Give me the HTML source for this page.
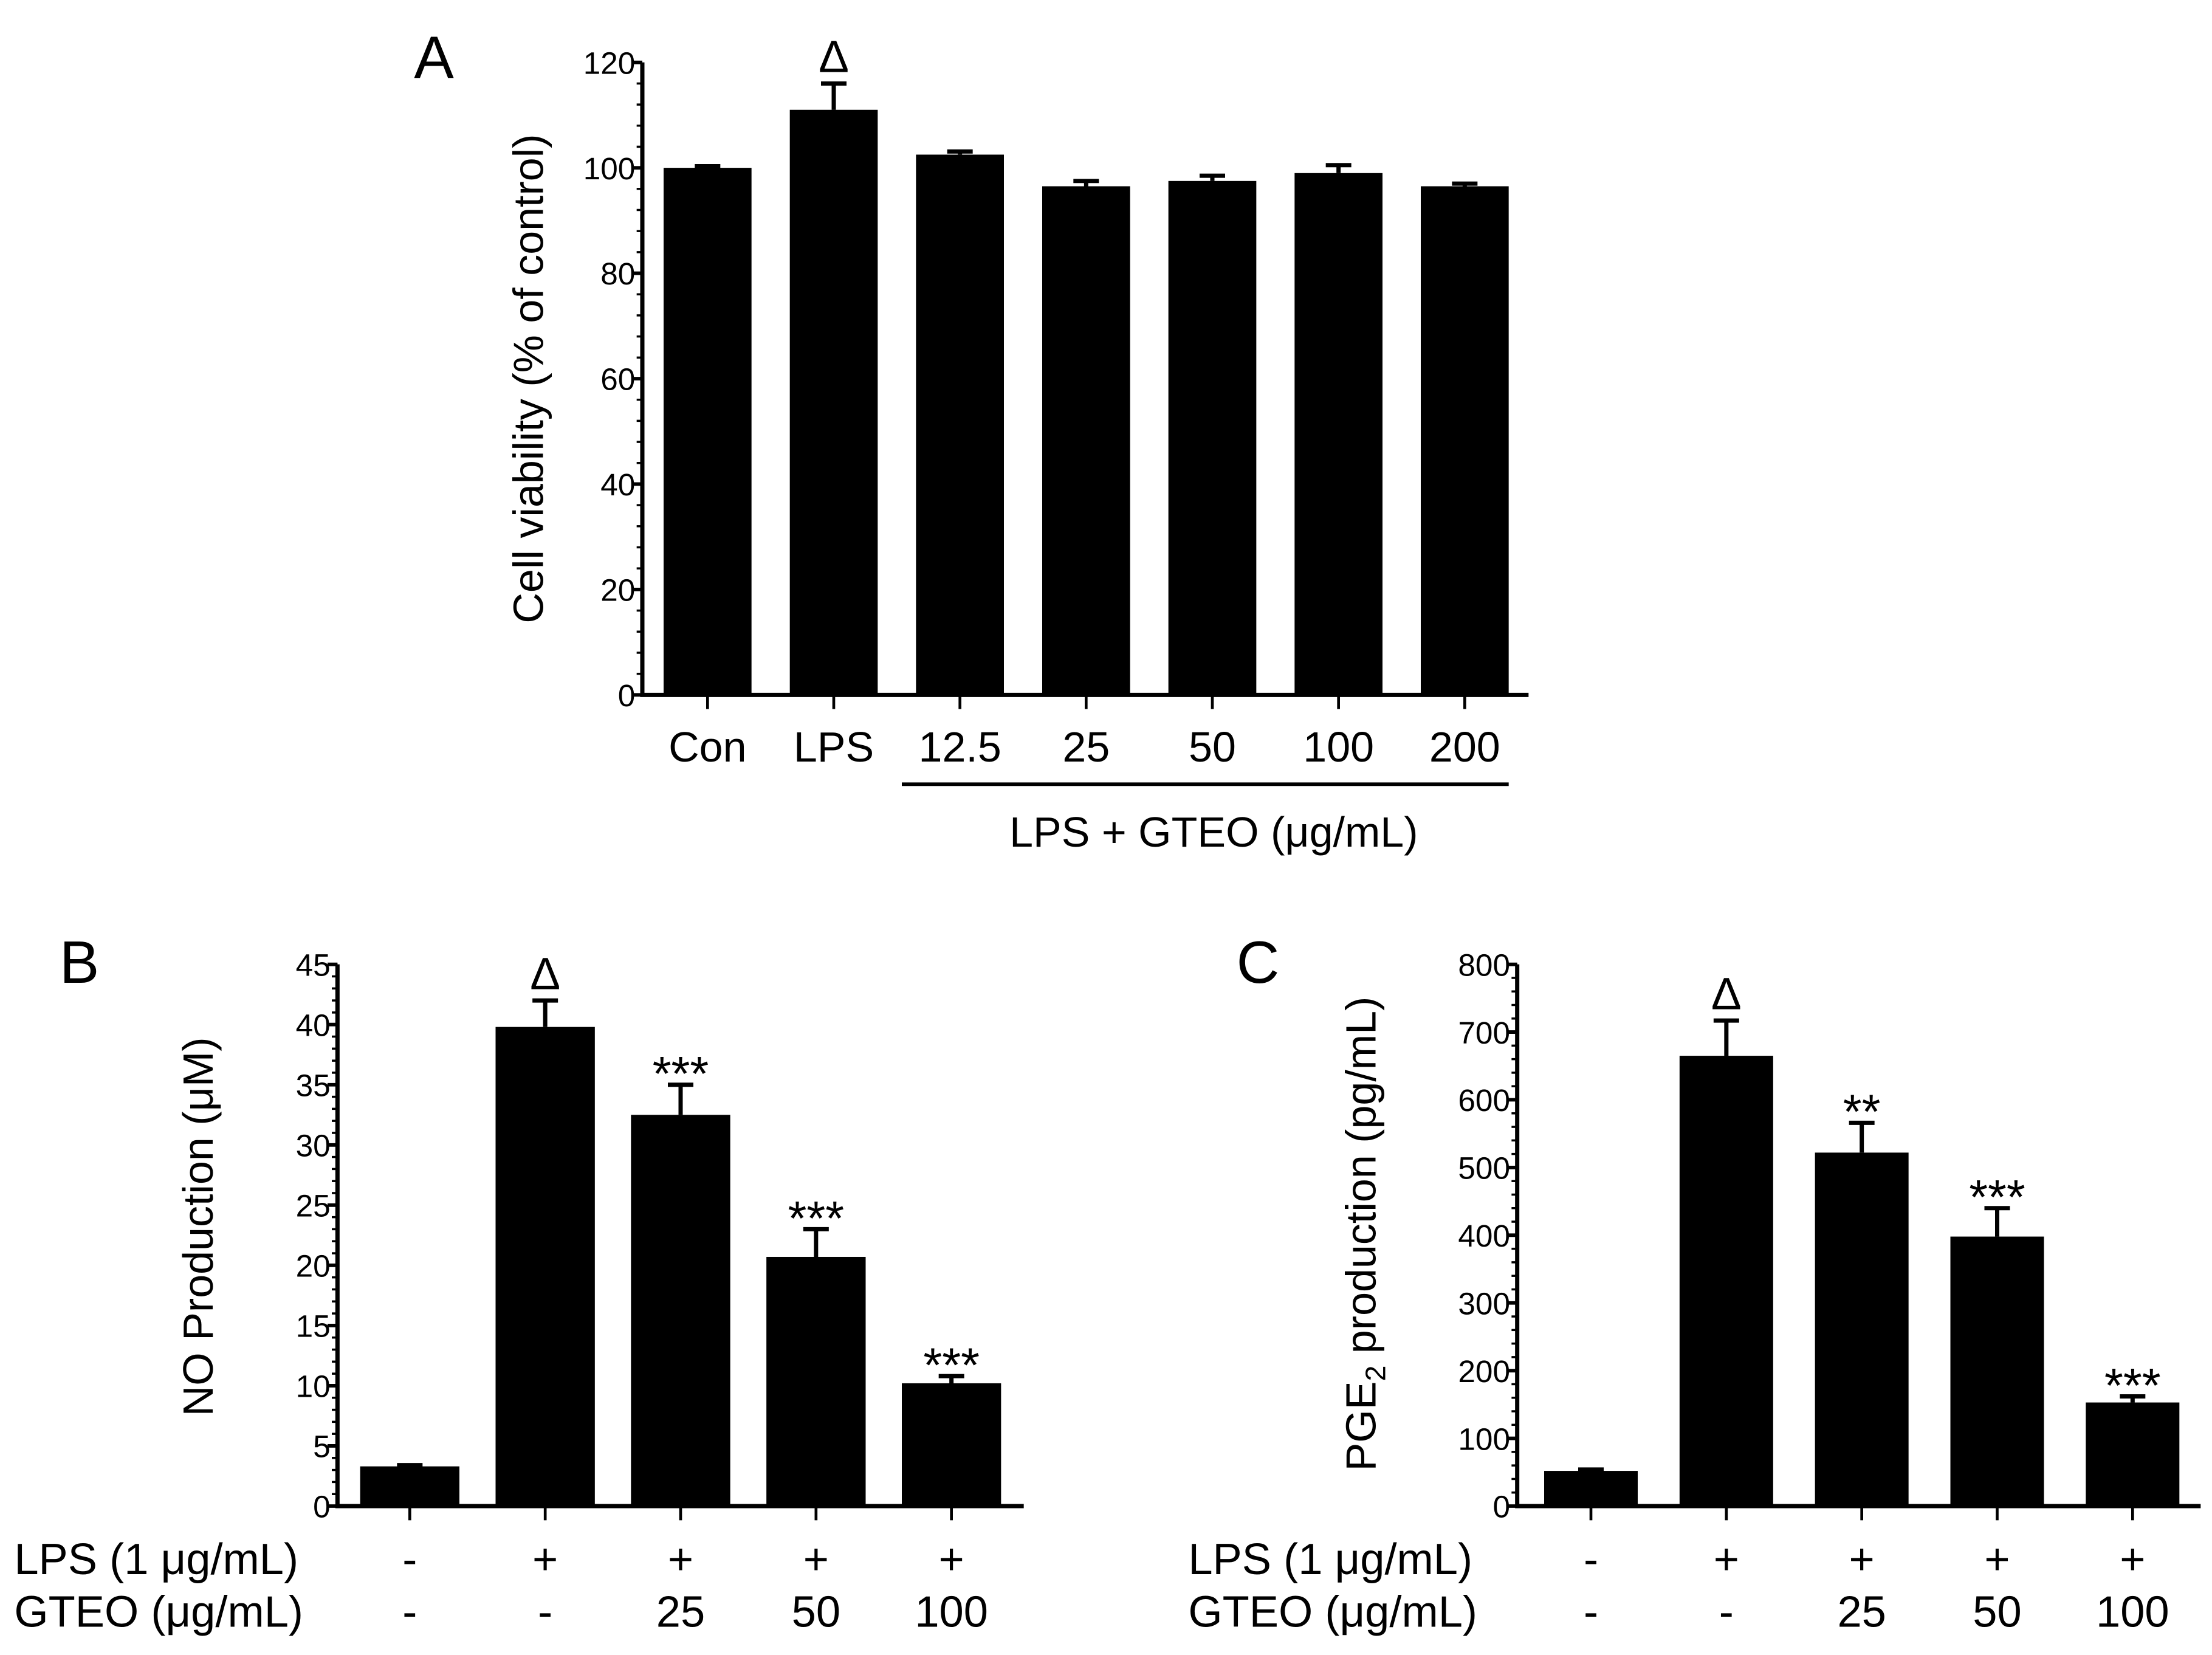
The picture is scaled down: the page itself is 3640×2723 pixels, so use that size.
<!DOCTYPE html>
<html><head><meta charset="utf-8"><style>
html,body{margin:0;padding:0;background:#fff}
svg{display:block}
text{font-family:"Liberation Sans",Arial,sans-serif;fill:#000}
</style></head><body>
<svg id="fig" width="3640" height="2723" viewBox="0 0 1560 1167" xmlns="http://www.w3.org/2000/svg">
<rect width="1560" height="1167" fill="#fff"/>
<g id="gA"></g>
<g id="gB"></g>
<g id="gC"></g>
</svg>
<script>
// Panel A data
const catsA = ["Con","LPS","12.5","25","50","100","200"];
const valsA = [100,111,102.5,96.5,97.5,99,96.5];
const errA = [0.3,5,0.6,1,1,1.5,0.5];
const sigA = ["","Δ","","","","",""];
const ticksA = [0,20,40,60,80,100,120];
// Panel B data
const lpsB = ["-","+","+","+","+"];
const gteoB = ["-","-","25","50","100"];
const valsB = [3.3,39.8,32.5,20.7,10.2];
const errB = [0.1,2.2,2.5,2.3,0.6];
const sigB = ["","Δ","***","***","***"];
const ticksB = [0,5,10,15,20,25,30,35,40,45];
// Panel C data
const lpsC = ["-","+","+","+","+"];
const gteoC = ["-","-","25","50","100"];
const valsC = [52,665,522,398,153];
const errC = [2,52,44,42,9];
const sigC = ["","Δ","**","***","***"];
const ticksC = [0,100,200,300,400,500,600,700,800];

const NS="http://www.w3.org/2000/svg";
function mk(parent,tag,attrs,txt){const e=document.createElementNS(NS,tag);for(const k in attrs)e.setAttribute(k,attrs[k]);if(txt!==undefined)e.textContent=txt;parent.appendChild(e);return e;}

function panel(g,cfg){
  const {x0,x1,yTop,yBot,ymax,ticks,minor,vals,errs,sigs,c0,step,bw}=cfg;
  const ys=v=>yBot-(v/ymax)*(yBot-yTop);
  const xs=i=>c0+i*step;
  vals.forEach((v,i)=>{
    const r=mk(g,"rect",{x:xs(i)-bw/2,y:ys(v),width:bw,height:yBot-ys(v),fill:"#000"});
    
    
    const top=ys(v+errs[i]);
    const eb=mk(g,"path",{d:`M${xs(i)} ${ys(v)}V${top}M${xs(i)-9} ${top}H${xs(i)+9}`,stroke:"#000","stroke-width":3,fill:"none"});
    
    
    if(sigs[i]){
      const isD=sigs[i]==="Δ";
      const t=mk(g,"text",{x:xs(i),y:top-(isD?8:-4),"text-anchor":"middle","font-size":isD?32:34,"font-family":isD?"Liberation Serif, serif":"Liberation Sans, sans-serif"},sigs[i]);
      
      
    }
  });
  const ax=mk(g,"path",{d:`M${x0} ${yTop}V${yBot}H${x1}`,stroke:"#000","stroke-width":3,fill:"none"});
  
  
  ticks.forEach(t=>{
    mk(g,"line",{x1:x0-7,x2:x0,y1:ys(t),y2:ys(t),stroke:"#000","stroke-width":2.5});
    const l=mk(g,"text",{x:x0-5,y:ys(t)+8,"text-anchor":"end","font-size":22},t);
    
    
  });
  for(let v=0;v<=ymax;v+=minor){mk(g,"line",{x1:x0-4,x2:x0,y1:ys(v),y2:ys(v),stroke:"#000","stroke-width":1.5});}
  vals.forEach((v,i)=>mk(g,"line",{x1:xs(i),x2:xs(i),y1:yBot,y2:yBot+10,stroke:"#000","stroke-width":2}));
  return {xs,ys};
}

// Panel A
const gA=document.getElementById('gA');
const pA=panel(gA,{x0:453,x1:1078,yTop:44,yBot:490,ymax:120,ticks:ticksA,minor:4,vals:valsA,errs:errA,sigs:sigA,c0:499,step:89,bw:62});
catsA.forEach((c,i)=>{const t=mk(gA,"text",{x:pA.xs(i),y:537,"text-anchor":"middle","font-size":30},c);

});
mk(gA,"line",{x1:636,x2:1064,y1:553,y2:553,stroke:"#000","stroke-width":2.5});
let t=mk(gA,"text",{x:856,y:597,"text-anchor":"middle","font-size":30},"LPS + GTEO (μg/mL)");


t=mk(gA,"text",{x:383,y:267,"text-anchor":"middle","font-size":30,transform:"rotate(-90 383 267)"},"Cell viability (% of control)");


t=mk(gA,"text",{x:292,y:55,"font-size":42},"A");



// Panel B
const gB=document.getElementById('gB');
const pB=panel(gB,{x0:238,x1:722,yTop:680,yBot:1062,ymax:45,ticks:ticksB,minor:1,vals:valsB,errs:errB,sigs:sigB,c0:289,step:95.5,bw:70});
lpsB.forEach((c,i)=>{mk(gB,"text",{x:pB.xs(i),y:1110,"text-anchor":"middle","font-size":31},c);});
gteoB.forEach((c,i)=>{mk(gB,"text",{x:pB.xs(i),y:1147,"text-anchor":"middle","font-size":31},c);});
t=mk(gB,"text",{x:10,y:1110,"font-size":31},"LPS (1 μg/mL)");


t=mk(gB,"text",{x:10,y:1147,"font-size":31},"GTEO (μg/mL)");


t=mk(gB,"text",{x:150,y:865,"text-anchor":"middle","font-size":30,transform:"rotate(-90 150 865)"},"NO Production (μM)");


t=mk(gB,"text",{x:42,y:693,"font-size":42},"B");



// Panel C
const gC=document.getElementById('gC');
const pC=panel(gC,{x0:1070,x1:1552,yTop:680,yBot:1062,ymax:800,ticks:ticksC,minor:20,vals:valsC,errs:errC,sigs:sigC,c0:1122,step:95.5,bw:66});
lpsC.forEach((c,i)=>{mk(gC,"text",{x:pC.xs(i),y:1110,"text-anchor":"middle","font-size":31},c);});
gteoC.forEach((c,i)=>{mk(gC,"text",{x:pC.xs(i),y:1147,"text-anchor":"middle","font-size":31},c);});
t=mk(gC,"text",{x:838,y:1110,"font-size":31},"LPS (1 μg/mL)");


t=mk(gC,"text",{x:838,y:1147,"font-size":31},"GTEO (μg/mL)");


t=mk(gC,"text",{x:970,y:870,"text-anchor":"middle","font-size":30,transform:"rotate(-90 970 870)"});


t.innerHTML='PGE<tspan font-size="20" dy="7">2</tspan><tspan dy="-7"> production (pg/mL)</tspan>';
t=mk(gC,"text",{x:872,y:693,"font-size":42},"C");


</script>
</body></html>
